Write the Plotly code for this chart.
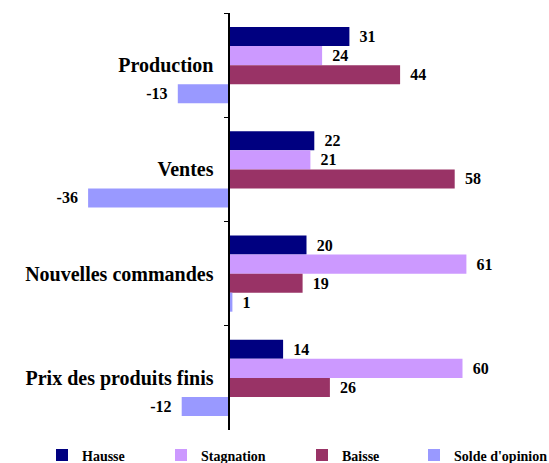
import plotly.graph_objects as go

categories = ["Production", "Ventes", "Nouvelles commandes", "Prix des produits finis"]
hausse = [31, 22, 20, 14]
stagnation = [24, 21, 61, 60]
baisse = [44, 58, 19, 26]
solde = [-13, -36, 1, -12]

series = [
    ("Hausse", hausse, "#000080"),
    ("Stagnation", stagnation, "#CC99FF"),
    ("Baisse", baisse, "#993366"),
    ("Solde d'opinion", solde, "#9999FF"),
]

FONT = "Liberation Serif"
PAD = "\u00a0\u2009"

W, H = 549, 463
ML, MR, MT, MB = 53, 28, 13, 33
XR = [-45, 75]
plot_w = W - ML - MR
plot_h = H - MT - MB

legend_px = [42, 161, 302, 414]
legend_names = ["legend", "legend2", "legend3", "legend4"]
LEG_CY = 455.5

fig = go.Figure()
for i, (name, vals, color) in enumerate(series):
    txt = [f"{PAD}{v}" if v >= 0 else f"{v}{PAD}" for v in vals]
    fig.add_trace(go.Bar(
        y=categories, x=vals, name=name, orientation="h",
        marker=dict(color=color, line=dict(width=0)),
        text=txt, textposition="outside", constraintext="none",
        cliponaxis=False,
        textfont=dict(family=FONT, size=16, color="black", weight="bold"),
        legend=legend_names[i],
    ))

layout_legends = {}
for i, ln in enumerate(legend_names):
    layout_legends[ln] = dict(
        x=(legend_px[i] - ML) / plot_w, xanchor="left",
        y=(H - MB - LEG_CY) / plot_h, yanchor="middle",
        orientation="h", bgcolor="rgba(0,0,0,0)",
        font=dict(family=FONT, size=14, color="black", weight="bold"),
        itemwidth=30,
    )

fig.update_layout(
    width=W, height=H,
    margin=dict(l=ML, r=MR, t=MT, b=MB, autoexpand=False),
    font=dict(family=FONT, color="black"),
    barmode="group", bargap=0.27, bargroupgap=0,
    plot_bgcolor="white", paper_bgcolor="white",
    showlegend=True,
    **layout_legends,
)
fig.update_xaxes(range=XR, visible=False, showgrid=False, zeroline=False, automargin=False)
fig.update_yaxes(
    autorange="reversed", anchor="free", automargin=False,
    position=(0 - XR[0]) / (XR[1] - XR[0]),
    showline=True, linecolor="black", linewidth=2,
    ticks="outside", tickson="boundaries", ticklen=4, tickcolor="black", tickwidth=1,
    ticklabelstandoff=10,
    tickfont=dict(family=FONT, size=20, color="black", weight="bold"),
    showgrid=False, zeroline=False,
)
fig.write_html(
    "out.html",
    config={"displayModeBar": False},
    post_script="document.body.style.margin='0';document.body.style.overflow='hidden';",
)
